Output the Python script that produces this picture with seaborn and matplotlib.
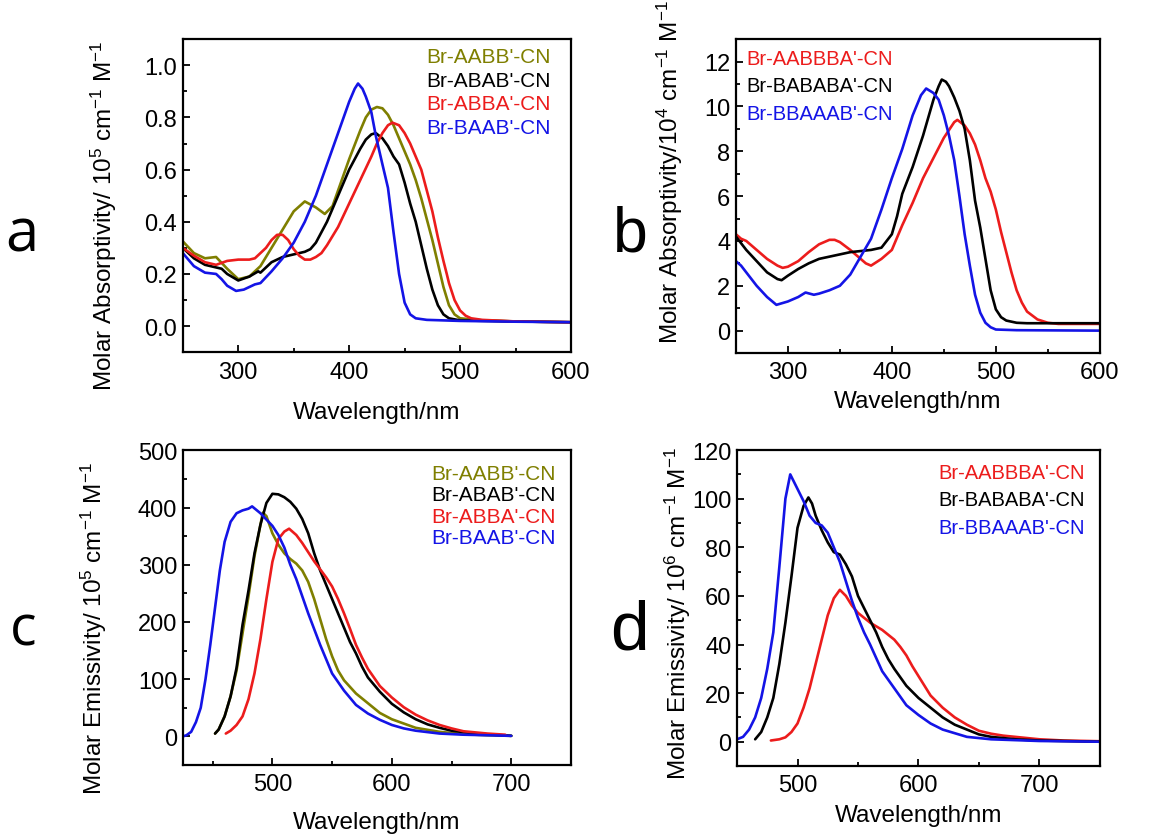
import matplotlib
matplotlib.use('Agg')
from matplotlib import pyplot as plt
from matplotlib.ticker import MultipleLocator, FormatStrFormatter
import pandas as pd
import seaborn as sns

# ---- panel a: absorption of the 4-mers (10^5 cm-1 M-1)
a_names = ["Br-AABB'-CN", "Br-ABAB'-CN", "Br-ABBA'-CN", "Br-BAAB'-CN"]
a_aabb_wl = [250, 260, 270, 280, 290, 300, 310, 320, 330, 340, 350, 360, 370, 378, 385, 390, 400, 410, 415, 420,
             425, 430, 435, 440, 445, 450, 455, 460, 465, 470, 475, 480, 485, 490, 495, 500, 520, 550, 600]
a_aabb = [0.325, 0.28, 0.26, 0.265, 0.22, 0.18, 0.19, 0.23, 0.30, 0.37, 0.44, 0.478, 0.455, 0.43, 0.46, 0.52,
          0.64, 0.75, 0.80, 0.83, 0.84, 0.835, 0.81, 0.77, 0.72, 0.67, 0.62, 0.56, 0.49, 0.41, 0.33, 0.24, 0.15,
          0.08, 0.045, 0.03, 0.022, 0.018, 0.015]
a_abab_wl = [250, 260, 270, 280, 285, 290, 300, 310, 318, 320, 325, 330, 340, 350, 360, 365, 370, 380, 390, 400,
             410, 415, 420, 424, 430, 435, 440, 445, 450, 455, 460, 465, 470, 475, 480, 485, 490, 500, 550, 600]
a_abab = [0.30, 0.26, 0.235, 0.225, 0.22, 0.20, 0.175, 0.19, 0.21, 0.205, 0.225, 0.245, 0.265, 0.275, 0.285,
          0.295, 0.32, 0.40, 0.50, 0.60, 0.68, 0.715, 0.735, 0.74, 0.72, 0.69, 0.65, 0.62, 0.55, 0.47, 0.40,
          0.31, 0.22, 0.14, 0.08, 0.045, 0.03, 0.022, 0.018, 0.015]
a_abba_wl = [250, 260, 270, 280, 290, 300, 310, 315, 320, 325, 330, 335, 340, 345, 350, 355, 360, 365, 370, 375,
             380, 390, 400, 410, 420, 425, 430, 435, 439, 445, 450, 455, 460, 465, 470, 475, 477, 480, 485, 488,
             490, 495, 500, 505, 510, 520, 550, 600]
a_abba = [0.30, 0.27, 0.245, 0.235, 0.25, 0.255, 0.255, 0.26, 0.28, 0.30, 0.33, 0.35, 0.35, 0.33, 0.295, 0.27,
          0.255, 0.255, 0.265, 0.28, 0.31, 0.38, 0.47, 0.56, 0.65, 0.70, 0.74, 0.77, 0.78, 0.77, 0.74, 0.70,
          0.65, 0.60, 0.52, 0.44, 0.40, 0.34, 0.25, 0.20, 0.165, 0.10, 0.06, 0.04, 0.03, 0.024, 0.018, 0.015]
a_baab_wl = [250, 260, 270, 280, 285, 290, 298, 305, 315, 320, 330, 340, 350, 360, 370, 380, 390, 400, 405, 408,
             412, 415, 420, 424, 430, 435, 440, 445, 450, 455, 460, 470, 500, 550, 600]
a_baab = [0.28, 0.23, 0.205, 0.20, 0.18, 0.155, 0.135, 0.14, 0.16, 0.165, 0.21, 0.26, 0.32, 0.40, 0.50, 0.62,
          0.74, 0.86, 0.91, 0.93, 0.91, 0.88, 0.82, 0.73, 0.62, 0.53, 0.36, 0.20, 0.09, 0.045, 0.03, 0.024,
          0.02, 0.017, 0.015]

# ---- panel b: absorption of the 6-mers (10^4 cm-1 M-1)
b_names = ["Br-AABBBA'-CN", "Br-BABABA'-CN", "Br-BBAAAB'-CN"]
b_aabbba_wl = [250, 255, 260, 270, 280, 290, 295, 300, 310, 320, 330, 340, 345, 350, 360, 370, 375, 380, 390,
               400, 410, 420, 430, 440, 450, 460, 463, 470, 475, 480, 485, 490, 495, 500, 505, 510, 515, 520,
               525, 530, 540, 550, 560, 600]
b_aabbba = [4.3, 4.1, 4.0, 3.6, 3.2, 2.9, 2.8, 2.85, 3.1, 3.5, 3.85, 4.05, 4.05, 3.95, 3.6, 3.2, 3.0, 2.9, 3.2,
            3.6, 4.7, 5.7, 6.8, 7.7, 8.6, 9.3, 9.4, 9.15, 8.8, 8.3, 7.6, 6.8, 6.2, 5.4, 4.4, 3.5, 2.6, 1.8,
            1.25, 0.85, 0.5, 0.35, 0.3, 0.3]
b_bababa_wl = [250, 255, 260, 270, 280, 290, 294, 300, 310, 320, 330, 340, 350, 360, 370, 380, 390, 400, 405,
               410, 420, 430, 440, 445, 448, 452, 455, 460, 465, 470, 475, 480, 485, 490, 495, 500, 505, 510,
               520, 530, 600]
b_bababa = [4.2, 3.9, 3.6, 3.1, 2.6, 2.3, 2.25, 2.45, 2.75, 3.0, 3.2, 3.3, 3.4, 3.5, 3.55, 3.6, 3.7, 4.3, 5.1,
            6.1, 7.3, 8.7, 10.3, 10.9, 11.2, 11.1, 10.9, 10.4, 9.8, 9.0, 7.6, 5.8, 4.6, 3.2, 1.8, 0.95, 0.6,
            0.45, 0.35, 0.33, 0.33]
b_bbaaab_wl = [250, 255, 260, 270, 280, 289, 300, 310, 317, 325, 330, 340, 350, 360, 370, 375, 380, 390, 400,
               410, 420, 428, 433, 440, 445, 450, 455, 460, 465, 470, 475, 480, 485, 490, 495, 500, 520, 600]
b_bbaaab = [3.1, 2.9, 2.6, 2.0, 1.5, 1.15, 1.3, 1.5, 1.7, 1.6, 1.65, 1.8, 2.0, 2.5, 3.3, 3.7, 4.1, 5.4, 6.8,
            8.1, 9.6, 10.5, 10.8, 10.6, 10.3, 9.6, 8.7, 7.6, 6.0, 4.3, 2.9, 1.6, 0.8, 0.35, 0.15, 0.05, 0.02,
            0.0]

# ---- panel c: emission of the 4-mers (10^5 cm-1 M-1)
c_aabb_wl = [452, 455, 460, 465, 470, 475, 480, 485, 490, 492, 495, 500, 505, 510, 515, 520, 525, 530, 535, 540,
             545, 550, 555, 560, 570, 580, 590, 600, 620, 640, 660, 680, 700]
c_aabb = [5, 12, 35, 70, 115, 180, 245, 315, 370, 391, 385, 355, 335, 320, 310, 302, 290, 270, 240, 205, 170,
          140, 115, 98, 75, 58, 41, 30, 15, 8, 4, 2, 1]
c_abab_wl = [452, 455, 460, 465, 470, 475, 480, 485, 490, 495, 500, 505, 510, 515, 520, 525, 530, 535, 540, 545,
             550, 555, 560, 565, 570, 575, 580, 590, 600, 610, 620, 630, 640, 650, 670, 700]
c_abab = [5, 12, 35, 70, 120, 195, 255, 320, 370, 408, 424, 423, 418, 410, 398, 380, 355, 320, 290, 265, 240,
          215, 190, 165, 145, 122, 103, 78, 57, 42, 30, 21, 15, 10, 5, 1]
c_abba_wl = [461, 465, 470, 475, 480, 485, 490, 495, 500, 505, 510, 514, 520, 525, 530, 535, 540, 545, 550, 555,
             560, 565, 570, 575, 580, 590, 600, 610, 620, 630, 640, 650, 660, 680, 695]
c_abba = [5, 10, 20, 35, 65, 110, 170, 240, 305, 345, 358, 363, 352, 338, 322, 306, 292, 278, 262, 240, 215,
          188, 160, 138, 118, 88, 68, 51, 38, 28, 20, 14, 9, 5, 3]
c_baab_wl = [425, 428, 432, 436, 440, 444, 448, 452, 456, 460, 465, 470, 475, 480, 483, 490, 500, 505, 510, 515,
             520, 525, 530, 540, 550, 560, 570, 580, 590, 600, 610, 620, 640, 660, 700]
c_baab = [0, 2, 8, 25, 50, 100, 160, 225, 290, 340, 375, 390, 395, 398, 402, 390, 368, 352, 330, 300, 275, 245,
          215, 160, 110, 80, 55, 40, 29, 20, 14, 10, 5, 3, 1]

# ---- panel d: emission of the 6-mers (10^6 cm-1 M-1)
d_aabbba_wl = [478, 485, 490, 495, 500, 505, 510, 515, 520, 525, 530, 535, 540, 545, 550, 555, 560, 565, 570,
               575, 580, 585, 590, 595, 600, 610, 620, 630, 640, 650, 660, 670, 680, 700, 720, 750]
d_aabbba = [0.5, 1, 1.8, 4, 7.5, 14, 22, 32, 42, 52, 59, 62.5, 60, 56, 53, 51, 49, 47.5, 46, 44, 42, 39, 35.5,
            31, 27, 19, 14, 10, 7, 4.5, 3.3, 2.5, 2, 1, 0.5, 0.2]
d_bababa_wl = [465, 470, 475, 480, 485, 490, 495, 500, 505, 509, 512, 515, 520, 525, 530, 535, 540, 545, 550,
               555, 560, 565, 570, 575, 580, 590, 600, 610, 620, 630, 640, 650, 660, 680, 700, 750]
d_bababa = [1, 4, 10, 18, 32, 49, 68, 88, 97, 100.5, 98, 93, 87, 82, 78, 77, 73, 68, 60, 55, 50, 45, 39, 34, 30,
            23, 18, 14, 10, 7, 5, 3, 2, 1, 0.5, 0]
d_bbaaab_wl = [450, 455, 460, 465, 470, 475, 480, 485, 490, 494, 500, 505, 510, 515, 520, 525, 530, 535, 540,
               545, 550, 555, 560, 570, 580, 590, 600, 610, 620, 640, 660, 700, 750]
d_bbaaab = [1, 2, 5, 10, 18, 30, 45, 72, 100, 110, 104, 99, 93, 90, 89, 86, 80, 74, 66, 58, 51, 45, 40, 29, 22,
            15, 11, 7.5, 5, 2, 1, 0.3, 0]

olive, black, red, blue = '#7f7f00', '#000000', '#ec1c1c', '#1414e6'


def long_df(names, curves):
    rows = []
    for name, (wl, val) in zip(names, curves):
        for w, v in zip(wl, val):
            rows.append({'wl': w, 'val': v, 'name': name})
    return pd.DataFrame(rows)


sns.set_style('ticks')
plt.rcParams['font.family'] = 'Liberation Sans'
plt.rcParams['mathtext.fontset'] = 'custom'
plt.rcParams['mathtext.rm'] = 'Liberation Sans'
plt.rcParams['mathtext.it'] = 'Liberation Sans:italic'
plt.rcParams['axes.linewidth'] = 1.6
for key in ['text.color', 'axes.labelcolor', 'axes.edgecolor', 'xtick.color', 'ytick.color']:
    plt.rcParams[key] = 'black'

fig = plt.figure(figsize=(11.57, 8.37), dpi=100)

panels = [
    dict(rect=[0.158, 0.578, 0.3355, 0.374], names=a_names, colors=[olive, black, red, blue],
         curves=[(a_aabb_wl, a_aabb), (a_abab_wl, a_abab), (a_abba_wl, a_abba), (a_baab_wl, a_baab)],
         xlim=(250, 600), ylim=(-0.1, 1.1), xmaj=100, ymaj=0.2, fmt='%.1f',
         ylabel="Molar Absorptivity/ 10$^5$ cm$^{-1}$ M$^{-1}$", ylab=(-0.204, 0.438), xlab=-0.192,
         leg=(0.628, 0.975), lsp=0.22, lfs=15),
    dict(rect=[0.636, 0.577, 0.3146, 0.375], names=b_names, colors=[red, black, blue],
         curves=[(b_aabbba_wl, b_aabbba), (b_bababa_wl, b_bababa), (b_bbaaab_wl, b_bbaaab)],
         xlim=(250, 600), ylim=(-1, 13), xmaj=100, ymaj=2, fmt='%d',
         ylabel="Molar Absorptivity/10$^4$ cm$^{-1}$ M$^{-1}$", ylab=(-0.181, 0.58), xlab=-0.153,
         leg=(0.03, 0.97), lsp=0.42, lfs=14.5),
    dict(rect=[0.158, 0.0848, 0.3355, 0.376], names=a_names, colors=[olive, black, red, blue],
         curves=[(c_aabb_wl, c_aabb), (c_abab_wl, c_abab), (c_abba_wl, c_abba), (c_baab_wl, c_baab)],
         xlim=(425, 750), ylim=(-50, 500), xmaj=100, ymaj=100, fmt='%d',
         ylabel="Molar Emissivity/ 10$^5$ cm$^{-1}$ M$^{-1}$", ylab=(-0.229, 0.438), xlab=-0.181,
         leg=(0.639, 0.957), lsp=0.12, lfs=15),
    dict(rect=[0.637, 0.0836, 0.3137, 0.3775], names=b_names, colors=[red, black, blue],
         curves=[(d_aabbba_wl, d_aabbba), (d_bababa_wl, d_bababa), (d_bbaaab_wl, d_bbaaab)],
         xlim=(450, 750), ylim=(-10, 120), xmaj=100, ymaj=20, fmt='%d',
         ylabel="Molar Emissivity/ 10$^6$ cm$^{-1}$ M$^{-1}$", ylab=(-0.163, 0.487), xlab=-0.155,
         leg=(0.556, 0.96), lsp=0.42, lfs=14.5),
]

for p in panels:
    ax = fig.add_axes(p['rect'])
    df = long_df(p['names'], p['curves'])
    sns.lineplot(data=df, x='wl', y='val', hue='name', hue_order=p['names'], palette=p['colors'],
                 estimator=None, sort=False, lw=1.9, ax=ax)
    ax.set_xlim(*p['xlim'])
    ax.set_ylim(*p['ylim'])
    ax.xaxis.set_major_locator(MultipleLocator(p['xmaj']))
    ax.xaxis.set_minor_locator(MultipleLocator(p['xmaj'] / 2))
    ax.yaxis.set_major_locator(MultipleLocator(p['ymaj']))
    ax.yaxis.set_minor_locator(MultipleLocator(p['ymaj'] / 2))
    ax.yaxis.set_major_formatter(FormatStrFormatter(p['fmt']))
    ax.tick_params(which='both', direction='in', top=False, right=False, width=1.3, labelsize=17)
    ax.tick_params(which='major', length=5, pad=6)
    ax.tick_params(which='minor', length=3)
    ax.tick_params(axis='y', which='major', pad=4)
    ax.set_xlabel('Wavelength/nm', fontsize=17.5, va='center')
    ax.xaxis.set_label_coords(0.5, p['xlab'])
    ax.set_ylabel(p['ylabel'], fontsize=17.5, va='center')
    ax.yaxis.set_label_coords(*p['ylab'])
    ax.legend(loc='upper left', bbox_to_anchor=p['leg'], frameon=False, handlelength=0, handletextpad=0,
              labelcolor='linecolor', borderpad=0, borderaxespad=0, labelspacing=p['lsp'], fontsize=p['lfs'])

fig.text(0.019, 0.699, 'a', fontsize=43, family='Open Sans', ha='center', va='baseline')
fig.text(0.5445, 0.699, 'b', fontsize=45, ha='center', va='baseline')
fig.text(0.020, 0.229, 'c', fontsize=40, family='Open Sans', ha='center', va='baseline')
fig.text(0.5437, 0.224, 'd', fontsize=50, ha='center', va='baseline')

fig.savefig('out.png', dpi=100)
